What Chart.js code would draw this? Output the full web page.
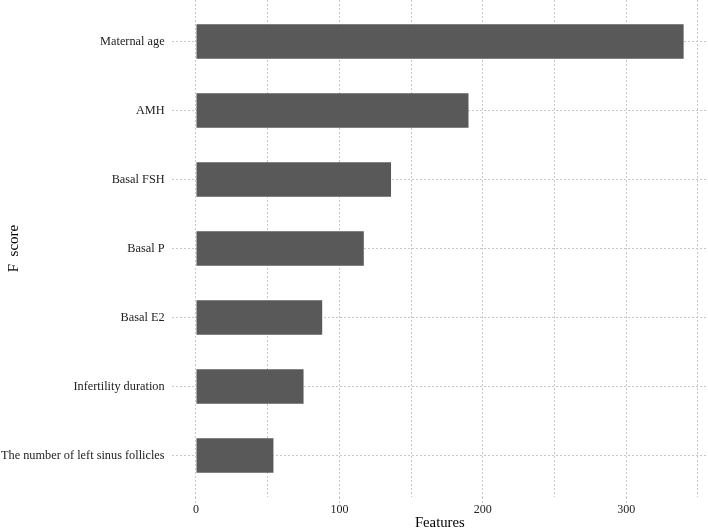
<!DOCTYPE html>
<html>
<head>
<meta charset="utf-8">
<script src="https://cdn.jsdelivr.net/npm/chart.js@4/dist/chart.umd.min.js"></script>
<style>
  html, body { margin: 0; padding: 0; background: #fff; }
</style>
</head>
<body>
<canvas id="chart" width="708" height="530"></canvas>
<script>
// Feature importance (F score), top to bottom
const categories = [
    'Maternal age',
    'AMH',
    'Basal FSH',
    'Basal P',
    'Basal E2',
    'Infertility duration',
    'The number of left sinus follicles'
];
const fScores = [340, 190, 136, 117, 88, 75, 54];

// grid positions on the value axis; only hundreds carry a label
const xGridValues = [0, 50, 100, 150, 200, 250, 300, 350];
const xLabelStep = 100;

const serif = '"Liberation Serif", "Times New Roman", serif';
const gridColor = '#c8c8c8';
const gridDash = [2, 2];

const ctx = document.getElementById('chart').getContext('2d');
new Chart(ctx, {
    type: 'bar',
    data: {
        datasets: [{
            data: fScores.map((v, i) => ({ x: v, y: i })),
            backgroundColor: '#595959',
            borderWidth: 0,
            barPercentage: 0.5,
            categoryPercentage: 1
        }]
    },
    options: {
        indexAxis: 'y',
        responsive: false,
        animation: false,
        layout: { padding: 0 },
        plugins: {
            legend: { display: false },
            tooltip: { enabled: false }
        },
        scales: {
            x: {
                type: 'linear',
                min: -17,
                max: 357,
                afterBuildTicks: function (scale) {
                    scale.ticks = xGridValues.map(v => ({ value: v }));
                },
                afterFit: function (scale) {
                    scale.height = 33;
                    scale.paddingLeft = 0;
                    scale.paddingRight = 0;
                },
                ticks: {
                    autoSkip: false,
                    maxRotation: 0,
                    padding: 0,
                    color: '#222',
                    font: { family: serif, size: 12 },
                    callback: function (value) {
                        return value % xLabelStep === 0 ? String(value) : '';
                    }
                },
                grid: {
                    color: gridColor,
                    lineWidth: 1,
                    drawTicks: true,
                    tickLength: 6,
                    tickBorderDash: gridDash,
                    tickColor: function (c) {
                        return c.tick && c.tick.value % xLabelStep === 0 ? gridColor : 'rgba(0,0,0,0)';
                    }
                },
                border: { display: false, dash: gridDash },
                title: {
                    display: true,
                    text: 'Features',
                    color: '#000',
                    font: { family: serif, size: 14.7, lineHeight: 1 },
                    padding: { top: 0, bottom: 0 }
                }
            },
            y: {
                type: 'linear',
                reverse: true,
                offset: false,
                min: -0.6,
                max: 6.6,
                afterBuildTicks: function (scale) {
                    scale.ticks = categories.map((c, i) => ({ value: i }));
                },
                afterFit: function (scale) {
                    scale.width = 171.6;
                    scale.paddingTop = 0;
                    scale.paddingBottom = 0;
                },
                ticks: {
                    autoSkip: false,
                    padding: 7,
                    color: '#222',
                    font: { family: serif, size: 12.3 },
                    callback: function (value) {
                        return categories[value];
                    }
                },
                grid: {
                    offset: false,
                    color: gridColor,
                    lineWidth: 1,
                    drawTicks: false
                },
                border: { display: false, dash: gridDash },
                title: {
                    display: true,
                    text: 'F  score',
                    color: '#000',
                    font: { family: serif, size: 15, lineHeight: 1.2 },
                    padding: { top: 5, bottom: 0 }
                }
            }
        }
    }
});
</script>
</body>
</html>
